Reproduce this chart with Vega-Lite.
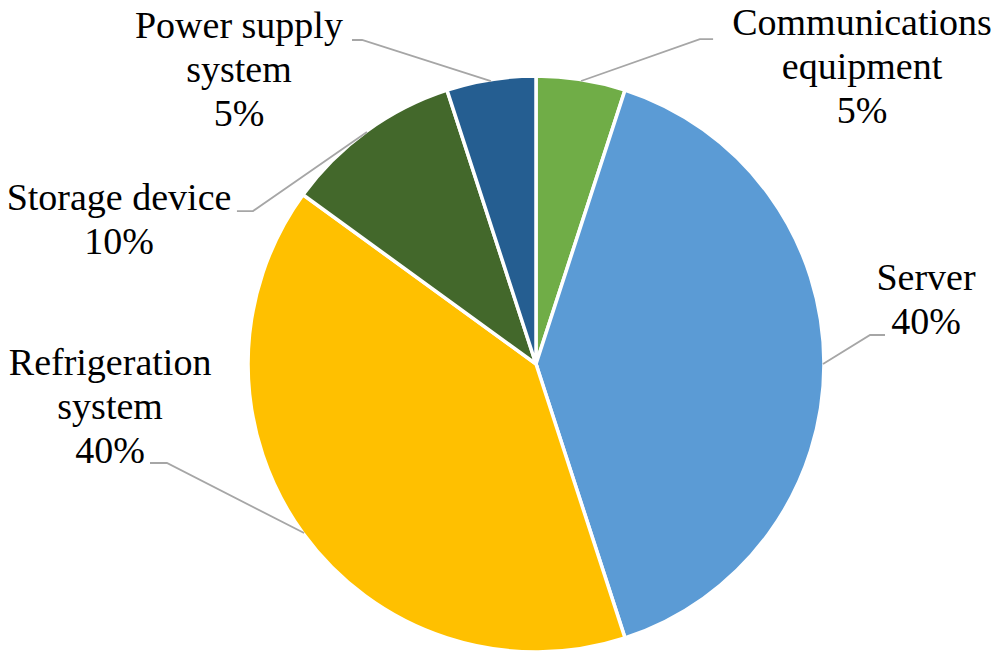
{
  "$schema": "https://vega.github.io/schema/vega-lite/v6.json",
  "width": 574,
  "height": 574,
  "autosize": {"type": "none"},
  "padding": {"left": 249, "top": 77, "right": 170, "bottom": 4},
  "background": "white",
  "config": {"view": {"stroke": null}},
  "layer": [
    {
      "data": {"values": [
        {"category": "Communications equipment", "share": 5, "ord": 1},
        {"category": "Server", "share": 40, "ord": 2},
        {"category": "Refrigeration system", "share": 40, "ord": 3},
        {"category": "Storage device", "share": 10, "ord": 4},
        {"category": "Power supply system", "share": 5, "ord": 5}
      ]},
      "mark": {"type": "arc", "outerRadius": 288, "stroke": "white", "strokeWidth": 3.5},
      "encoding": {
        "theta": {"field": "share", "type": "quantitative", "stack": true},
        "order": {"field": "ord", "type": "quantitative"},
        "color": {
          "field": "category", "type": "nominal", "legend": null,
          "scale": {
            "domain": ["Communications equipment", "Server", "Refrigeration system", "Storage device", "Power supply system"],
            "range": ["#70AD47", "#5B9BD5", "#FFC000", "#43682B", "#255E91"]
          }
        }
      }
    },
    {
      "data": {"values": [
        {"g": "Power", "s": 1, "u": -0.641, "v": 1.129},
        {"g": "Power", "s": 2, "u": -0.606, "v": 1.129},
        {"g": "Power", "s": 3, "u": -0.157, "v": 0.986},
        {"g": "Comm", "s": 1, "u": 0.617, "v": 1.132},
        {"g": "Comm", "s": 2, "u": 0.571, "v": 1.132},
        {"g": "Comm", "s": 3, "u": 0.157, "v": 0.986},
        {"g": "Storage", "s": 1, "u": -1.042, "v": 0.533},
        {"g": "Storage", "s": 2, "u": -0.986, "v": 0.533},
        {"g": "Storage", "s": 3, "u": -0.589, "v": 0.808},
        {"g": "Server", "s": 1, "u": 1.216, "v": 0.101},
        {"g": "Server", "s": 2, "u": 1.164, "v": 0.101},
        {"g": "Server", "s": 3, "u": 1.0, "v": 0.0},
        {"g": "Refrig", "s": 1, "u": -1.345, "v": -0.345},
        {"g": "Refrig", "s": 2, "u": -1.286, "v": -0.345},
        {"g": "Refrig", "s": 3, "u": -0.808, "v": -0.589}
      ]},
      "mark": {"type": "line", "color": "#A6A6A6", "strokeWidth": 1.8},
      "encoding": {
        "x": {"field": "u", "type": "quantitative", "scale": {"domain": [-1, 1], "nice": false, "zero": false}, "axis": null},
        "y": {"field": "v", "type": "quantitative", "scale": {"domain": [-1, 1], "nice": false, "zero": false}, "axis": null},
        "detail": {"field": "g", "type": "nominal"},
        "order": {"field": "s", "type": "quantitative"}
      }
    },
    {
      "data": {"values": [
        {"label": "Power supply\nsystem\n5%", "u": -1.035, "v": 1.136},
        {"label": "Communications\nequipment\n5%", "u": 1.136, "v": 1.146},
        {"label": "Storage device\n10%", "u": -1.453, "v": 0.537},
        {"label": "Refrigeration\nsystem\n40%", "u": -1.484, "v": -0.038},
        {"label": "Server\n40%", "u": 1.359, "v": 0.258}
      ]},
      "mark": {"type": "text", "font": "'Liberation Serif', 'Times New Roman', serif", "fontSize": 38, "lineHeight": 44, "lineBreak": "\n", "align": "center", "baseline": "alphabetic", "color": "black"},
      "encoding": {
        "x": {"field": "u", "type": "quantitative", "scale": {"domain": [-1, 1], "nice": false, "zero": false}, "axis": null},
        "y": {"field": "v", "type": "quantitative", "scale": {"domain": [-1, 1], "nice": false, "zero": false}, "axis": null},
        "text": {"field": "label", "type": "nominal"}
      }
    }
  ]
}
